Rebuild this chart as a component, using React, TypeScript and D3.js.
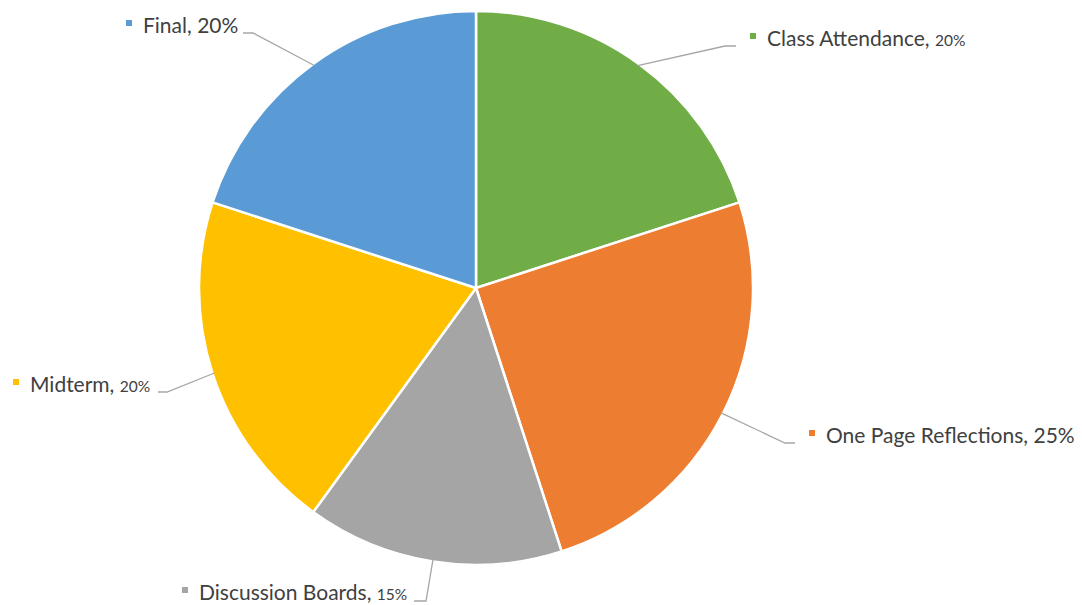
import React from "react";
import * as d3 from "d3";

const categories = ["Class Attendance", "One Page Reflections", "Discussion Boards", "Midterm", "Final"];
const values = [20, 25, 15, 20, 20];
const percentLabels = ["20%", "25%", "15%", "20%", "20%"];
const smallPercent = [true, false, true, true, false];
const colors = ["#70AD47", "#ED7D31", "#A5A5A5", "#FFC000", "#5B9BD5"];

const W = 1082;
const H = 605;
const CX = 476;
const CY = 288;
const R = 277;

// label layout: text start x, baseline y, elbow point, horizontal end point
const layout = [
  { tx: 767, ty: 46, elbow: [725, 46], end: [736, 46] },
  { tx: 826, ty: 443, elbow: [785, 443], end: [795, 443] },
  { tx: 199, ty: 600, elbow: [426, 601], end: [414, 601] },
  { tx: 30, ty: 392, elbow: [167, 392], end: [158, 392] },
  { tx: 143, ty: 33, elbow: [253, 33], end: [243, 33] },
];

export default function App() {
  const pie = d3.pie<number>().sort(null).value((d) => d)(values);
  const arc = d3.arc<d3.PieArcDatum<number>>().innerRadius(0).outerRadius(R);
  const font = "Lato, 'Open Sans', sans-serif";
  return (
    <svg width={W} height={H} style={{ position: "absolute", left: 0, top: 0, background: "#fff" }}>
      <g transform={`translate(${CX},${CY})`}>
        {pie.map((p, i) => (
          <path key={i} d={arc(p) || ""} fill={colors[i]} stroke="#fff" strokeWidth={2.5} strokeLinejoin="round" />
        ))}
      </g>
      {pie.map((p, i) => {
        const a = (p.startAngle + p.endAngle) / 2;
        const sx = CX + (R - 2) * Math.sin(a);
        const sy = CY - (R - 2) * Math.cos(a);
        const L = layout[i];
        return (
          <polyline
            key={"l" + i}
            points={`${sx},${sy} ${L.elbow[0]},${L.elbow[1]} ${L.end[0]},${L.end[1]}`}
            fill="none"
            stroke="#A6A6A6"
            strokeWidth={1.3}
          />
        );
      })}
      {categories.map((c, i) => {
        const L = layout[i];
        return (
          <g key={"t" + i}>
            <rect x={L.tx - 17} y={L.ty - 13} width={6} height={6} fill={colors[i]} />
            <text x={L.tx} y={L.ty} fontFamily={font} fontSize={21} fill="#404040">
              {c + ", "}
              <tspan fontSize={smallPercent[i] ? 15.5 : 21}>{percentLabels[i]}</tspan>
            </text>
          </g>
        );
      })}
    </svg>
  );
}
